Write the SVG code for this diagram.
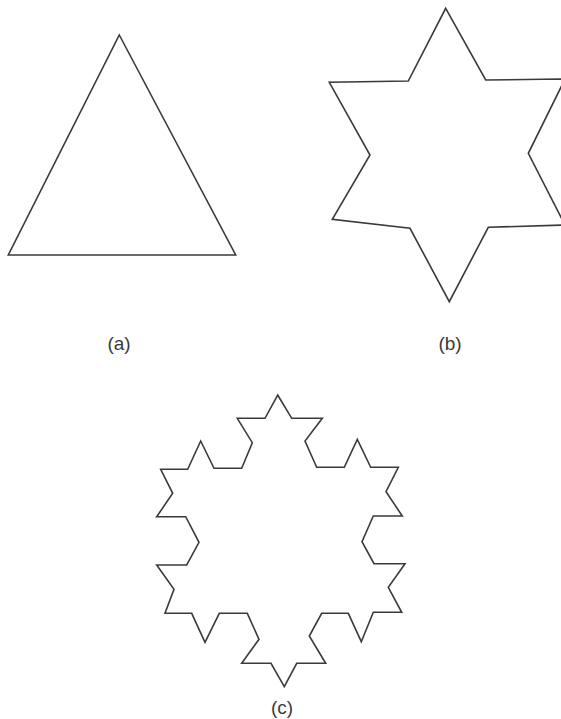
<svg xmlns="http://www.w3.org/2000/svg" width="561" height="719" viewBox="0 0 561 719">
<style>
.shape{fill:none;stroke:#3a3a3a;stroke-width:1.6;stroke-linejoin:miter}
.lbl{font-family:"Liberation Sans",Arial,sans-serif;font-size:19px;fill:#3a3a3a;text-anchor:middle}
</style>
<rect width="561" height="719" fill="#ffffff"/>
<g id="triangle-a">
<polygon class="shape" points="119.3,35 235.7,255 8.3,255"/>
<text class="lbl" x="119" y="350">(a)</text>
</g>
<g id="star-b">
<polygon class="shape" points="445.7,8.3 485.7,80 565,79 528.3,153.3 565,225 488.3,227.3 449.3,301.7 410,228.3 332.3,219.3 370,155 329.3,82.3 408.3,81"/>
<text class="lbl" x="450" y="350">(b)</text>
</g>
<g id="snowflake-c">
<polygon class="shape" points="277.7,395 291.7,418.3 322.3,418.3 305,441 316.7,467.3 344.3,467.3 357.3,439.3 370.7,467.3 398.3,467.3 386,491.7 402.3,516 373.3,516 362,541.7 374,563.7 405,563.7 388.3,587.3 401.7,612.3 373.3,612.3 361.3,641.7 348.3,613.3 321.7,613.3 309.3,636 325.7,663.3 296.7,663.3 284.3,686.7 271,663.3 241.7,663.3 259,639.3 247.3,613.3 219.3,613.3 205,642.3 191.7,613.3 165,613.3 174,589.3 156.7,565 186.7,565 199,542.3 185.7,516.7 156.7,516.7 172.7,493.3 160.7,469.3 187.7,469.3 200.7,441 214,468.3 241.7,468.3 252.3,442.7 237.3,418.3 265,418.3"/>
<text class="lbl" x="282" y="714">(c)</text>
</g>
</svg>
